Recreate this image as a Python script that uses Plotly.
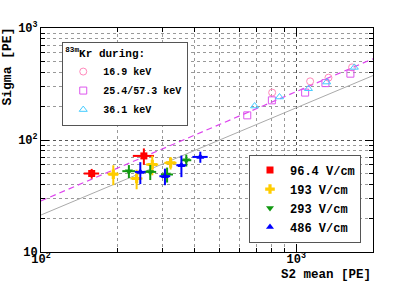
import plotly.graph_objects as go

# ---- data ----
fields = ["96.4 V/cm", "193 V/cm", "293 V/cm", "486 V/cm"]
s2_964 = [158, 253]
sig_964 = [50.2, 72.1]
s2e_964 = [11, 24]
sige_964 = [5, 12]

s2_193 = [192, 237, 273, 322]
sig_193 = [49.5, 45.3, 60.4, 62.5]
s2e_193 = [9.5, 13, 15, 17.6]
sige_193 = [10, 9, 12, 8]

s2_293 = [221, 268, 312, 371]
sig_293 = [52.7, 51.9, 49.2, 66.0]
s2e_293 = [12.7, 14.7, 17, 17]
sige_293 = [7, 8, 7.5, 8]

s2_486 = [245, 306, 355, 421]
sig_486 = [51.9, 47.5, 59.6, 70.6]
s2e_486 = [11.8, 15, 16, 29]
sige_486 = [11.5, 8, 13, 8]

kr_labels = ["16.9 keV", "25.4/57.3 keV", "36.1 keV"]
kr169_s2 = [805, 1134, 1338, 1656]
kr169_sig = [265, 334, 360, 445]
kr254_s2 = [643, 803, 1084, 1302, 1631]
kr254_sig = [166, 226, 265, 322, 391]
kr361_s2 = [687, 860, 1117, 1317, 1690]
kr361_sig = [201, 242, 287, 329, 445]

fit_x = [100, 2000]
fit_kr = [28.6, 531]
fit_grey = [21.4, 376]

FONT = "Liberation Mono"

fig = go.Figure()

fig.add_trace(go.Scatter(x=fit_x, y=fit_kr, mode="lines",
                         line=dict(color="#dd44ee", width=1.2, dash="6px,4px"),
                         showlegend=False, hoverinfo="skip"))
fig.add_trace(go.Scatter(x=fit_x, y=fit_grey, mode="lines",
                         line=dict(color="#aaaaaa", width=1),
                         showlegend=False, hoverinfo="skip"))

# Kr calibration points (legend 1)
kr_sets = [(kr169_s2, kr169_sig, "circle-open", "#ff88bb"),
           (kr254_s2, kr254_sig, "square-open", "#dd55ee"),
           (kr361_s2, kr361_sig, "triangle-up-open", "#44ccff")]
for lab, (xs, ys, sym, col) in zip(kr_labels, kr_sets):
    fig.add_trace(go.Scatter(x=xs, y=ys, mode="markers", name=lab,
                             marker=dict(symbol=sym, size=7, color=col,
                                         line=dict(width=1, color=col)),
                             legend="legend"))

# Field points (legend 2)
f_sets = [(s2_964, sig_964, s2e_964, sige_964, "square", "#ff0000", 7),
          (s2_193, sig_193, s2e_193, sige_193, "cross", "#ffcc00", 8),
          (s2_293, sig_293, s2e_293, sige_293, "triangle-down", "#119911", 7),
          (s2_486, sig_486, s2e_486, sige_486, "triangle-up", "#0000ff", 7)]
for lab, (xs, ys, xe, ye, sym, col, sz) in zip(fields, f_sets):
    fig.add_trace(go.Scatter(x=xs, y=ys, mode="markers", name=lab,
                             marker=dict(symbol=sym, size=sz, color=col),
                             error_x=dict(type="data", array=xe, color=col, thickness=2, width=0),
                             error_y=dict(type="data", array=ye, color=col, thickness=2, width=0),
                             legend="legend2"))

axis_common = dict(
    type="log", showline=True, linecolor="black", linewidth=1, mirror="allticks",
    ticks="inside", ticklen=8, tickcolor="black", automargin=False,
    showgrid=True, gridcolor="#555555", griddash="dot", gridwidth=1,
    zeroline=False,
    tickfont=dict(family=FONT, size=12, color="black", weight="bold"),
    minor=dict(dtick="D1", ticks="inside", ticklen=4, tickcolor="black",
               showgrid=True, gridcolor="#999999", griddash="dot", gridwidth=1),
)

fig.update_layout(
    width=415, height=281,
    margin=dict(l=41, r=42, t=28, b=29, autoexpand=False),
    paper_bgcolor="white", plot_bgcolor="white",
    font=dict(family=FONT, color="black", weight="bold"),
    xaxis=dict(axis_common, range=[2, 3.301], tickvals=[100, 1000],
               ticktext=["10<sup>2</sup>", "10<sup>3</sup>"], ticklabelstandoff=-4),
    yaxis=dict(axis_common, range=[1, 3], tickvals=[10, 100, 1000],
               ticktext=["10", "10<sup>2</sup>", "10<sup>3</sup>"]),
    legend=dict(x=0.064, y=0.9385, xanchor="left", yanchor="top",
                bgcolor="white", bordercolor="#555555", borderwidth=1,
                font=dict(family=FONT, size=10, weight="bold"),
                title=dict(text="<sup>83m</sup>Kr during:",
                           font=dict(family=FONT, size=11, weight="bold")),
                tracegroupgap=0, itemwidth=30),
    legend2=dict(x=0.6265, y=0.435, xanchor="left", yanchor="top",
                 bgcolor="white", bordercolor="#555555", borderwidth=1,
                 font=dict(family=FONT, size=12, weight="bold"),
                 tracegroupgap=0, itemwidth=30),
    annotations=[
        dict(text="Sigma [PE]", textangle=-90, xref="paper", yref="paper",
             x=-0.0994, y=1.011, xanchor="center", yanchor="top", showarrow=False,
             font=dict(family=FONT, size=13, weight="bold")),
        dict(text="S2 mean [PE]", xref="paper", yref="paper",
             x=1.0, y=-0.104, xanchor="right", yanchor="middle", showarrow=False,
             font=dict(family=FONT, size=12.5, weight="bold")),
    ],
)

fig.write_html("out.html", config={"displayModeBar": False},
               post_script="document.body.style.margin='0';")
